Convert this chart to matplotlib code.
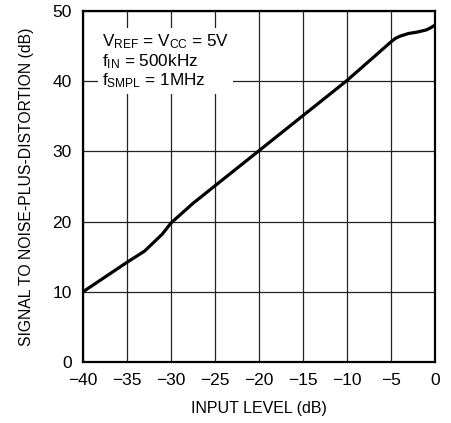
import matplotlib
matplotlib.use("Agg")
import matplotlib.pyplot as plt

plt.rcParams['font.family'] = ['Liberation Sans', 'DejaVu Sans']
plt.rcParams['mathtext.fontset'] = 'custom'
plt.rcParams['mathtext.rm'] = 'Liberation Sans'
plt.rcParams['mathtext.default'] = 'regular'

# data
input_level = [-40, -37.5, -35, -33, -31, -30, -27.5, -25, -20, -15, -10,
               -5, -4.5, -4, -3, -2, -1, -0.5, 0]
sinad = [10, 12.1, 14.2, 15.8, 18.2, 19.8, 22.6, 25.1, 30.1, 35.1, 40.1,
         45.6, 46.1, 46.4, 46.8, 47.0, 47.3, 47.6, 48.0]
x_ticks = [-40, -35, -30, -25, -20, -15, -10, -5, 0]
x_tick_labels = ['\u221240', '\u221235', '\u221230', '\u221225', '\u221220',
                 '\u221215', '\u221210', '\u22125', '0']
y_ticks = [0, 10, 20, 30, 40, 50]
annotation = ('V$_{REF}$ = V$_{CC}$ = 5V\n'
              'f$_{IN}$ = 500kHz\n'
              'f$_{SMPL}$ = 1MHz')

fig = plt.figure(figsize=(4.51, 4.23), dpi=100)
ax = fig.add_axes([0.184, 0.1442, 0.7805, 0.8298])

ax.plot(input_level, sinad, color='black', lw=2.3, solid_capstyle='round',
        solid_joinstyle='round', zorder=4)

ax.set_xlim(-40, 0)
ax.set_ylim(0, 50)
ax.set_xticks(x_ticks)
ax.set_xticklabels(x_tick_labels)
ax.set_yticks(y_ticks)
ax.grid(True, color='#222222', lw=0.9, zorder=1)
ax.set_axisbelow(True)
ax.tick_params(length=0, pad=8, labelsize=12.5)
for s in ax.spines.values():
    s.set_linewidth(1.6)
    s.set_zorder(5)

ax.set_xlabel('INPUT LEVEL (dB)', fontsize=11.5, labelpad=9)
ax.set_ylabel('SIGNAL TO NOISE-PLUS-DISTORTION (dB)', fontsize=11.3, labelpad=13)

ax.text(0.053, 0.939, annotation, transform=ax.transAxes, fontsize=12.3,
        va='top', ha='left', linespacing=1.05, zorder=3,
        bbox=dict(facecolor='white', edgecolor='none', pad=3))

fig.savefig('out.png', dpi=100)
